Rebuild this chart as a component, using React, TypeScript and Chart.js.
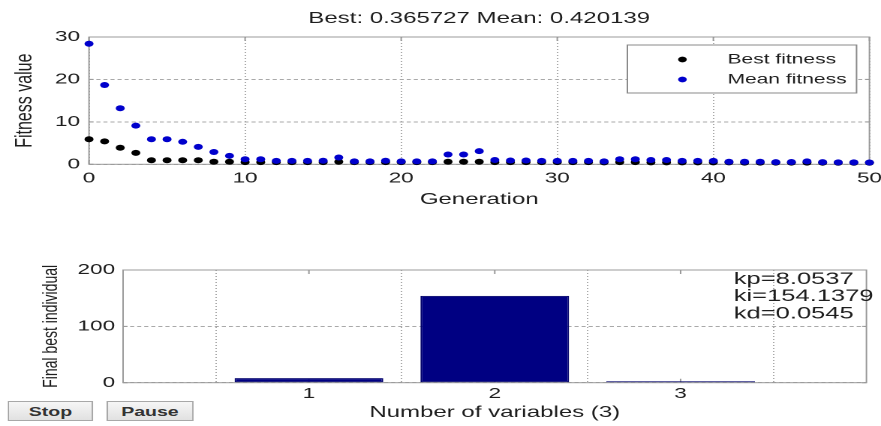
import React, { useEffect, useRef } from "react";
import { Chart, registerables } from "chart.js";

Chart.register(...registerables);

// ---------- data ----------
const bestFinal = 0.365727;
const meanFinal = 0.420139;

const bestFitness = [
  5.9, 5.4, 3.9, 2.7, 0.95, 0.95, 0.95, 0.95, 0.6, 0.6,
  0.5, 0.5, 0.5, 0.5, 0.5, 0.5, 0.6, 0.5, 0.5, 0.5,
  0.5, 0.5, 0.5, 0.6, 0.6, 0.6, 0.5, 0.5, 0.5, 0.5,
  0.5, 0.5, 0.5, 0.45, 0.5, 0.5, 0.45, 0.45, 0.45, 0.45,
  0.45, 0.45, 0.4, 0.4, 0.4, 0.4, 0.4, 0.38, 0.37, 0.37,
  bestFinal,
];

const meanFitness = [
  28.4, 18.7, 13.2, 9.1, 5.9, 5.9, 5.3, 4.1, 2.9, 2.0,
  1.2, 1.2, 0.8, 0.8, 0.8, 0.85, 1.6, 0.7, 0.7, 0.85,
  0.7, 0.7, 0.7, 2.3, 2.3, 3.1, 1.0, 0.9, 0.9, 0.8,
  0.8, 0.8, 0.8, 0.7, 1.2, 1.2, 1.0, 1.0, 0.8, 0.8,
  0.8, 0.6, 0.6, 0.6, 0.5, 0.55, 0.7, 0.5, 0.45, 0.45,
  meanFinal,
];

const genTicks = [0, 10, 20, 30, 40, 50];
const fitTicks = [0, 10, 20, 30];

const paramNames = ["kp", "ki", "kd"];
const varIndex = [1, 2, 3];
const barValues = [8.0537, 154.1379, 0.0545];
const barYTicks = [0, 100, 200];

// ---------- layout (logical, canvas is stretched horizontally) ----------
const LOGICAL_W = 587;
const STRETCH = 881 / LOGICAL_W;
const FONT = '"Liberation Sans", Arial, Helvetica, sans-serif';
const GRID = "#a9a9a9";
const BOX = "#9a9a9a";
const TEXT = "#1e1e1e";

Chart.defaults.font.family = FONT;

const boxPlugin = {
  id: "matBox",
  beforeDatasetsDraw(chart: any) {
    const { ctx, chartArea: a, scales } = chart;
    ctx.save();
    ctx.strokeStyle = BOX;
    ctx.lineWidth = 1;
    const xs = scales.x;
    const ys = scales.y;
    ctx.beginPath();
    xs.ticks.forEach((t: any) => {
      const px = xs.getPixelForValue(t.value);
      ctx.moveTo(px, a.bottom);
      ctx.lineTo(px, a.bottom - 4);
      ctx.moveTo(px, a.top);
      ctx.lineTo(px, a.top + 4);
    });
    ys.ticks.forEach((t: any) => {
      const py = ys.getPixelForValue(t.value);
      ctx.moveTo(a.left, py);
      ctx.lineTo(a.left + 3, py);
      ctx.moveTo(a.right, py);
      ctx.lineTo(a.right - 3, py);
    });
    ctx.stroke();
    ctx.strokeRect(a.left, a.top, a.right - a.left, a.bottom - a.top);
    ctx.restore();
  },
};

const legendBoxPlugin = {
  id: "legendBox",
  afterDatasetsDraw(chart: any, _args: any, opts: any) {
    if (!opts || !opts.show) return;
    const { ctx } = chart;
    ctx.save();
    ctx.fillStyle = "#ffffff";
    ctx.strokeStyle = "#8a8a8a";
    ctx.lineWidth = 1;
    ctx.fillRect(opts.x, opts.y, opts.w, opts.h);
    ctx.strokeRect(opts.x, opts.y, opts.w, opts.h);
    chart.data.datasets.forEach((ds: any, i: number) => {
      const cy = opts.firstRow + i * opts.row;
      ctx.fillStyle = ds.backgroundColor;
      ctx.beginPath();
      ctx.arc(opts.dotX, cy, 2.9, 0, Math.PI * 2);
      ctx.fill();
      ctx.fillStyle = TEXT;
      ctx.font = `14px ${FONT}`;
      ctx.textBaseline = "middle";
      ctx.textAlign = "left";
      ctx.fillText(ds.label, opts.textX, cy);
    });
    ctx.restore();
  },
};

const paramTextPlugin = {
  id: "paramText",
  afterDatasetsDraw(chart: any, _args: any, opts: any) {
    if (!opts || !opts.show) return;
    const { ctx } = chart;
    ctx.save();
    ctx.fillStyle = TEXT;
    ctx.font = `17px ${FONT}`;
    ctx.textBaseline = "middle";
    ctx.textAlign = "left";
    paramNames.forEach((n, i) => {
      ctx.fillText(`${n}=${barValues[i]}`, opts.x, opts.y + i * opts.row);
    });
    ctx.restore();
  },
};

export default function App() {
  const topRef = useRef<HTMLCanvasElement>(null);
  const botRef = useRef<HTMLCanvasElement>(null);

  useEffect(() => {
    const top = new Chart(topRef.current as HTMLCanvasElement, {
      type: "scatter",
      data: {
        datasets: [
          {
            label: "Best fitness",
            data: bestFitness.map((v, i) => ({ x: i, y: v })),
            backgroundColor: "#000000",
            borderColor: "#000000",
            pointRadius: 3,
            pointBorderWidth: 0,
            order: 1,
            clip: false,
          },
          {
            label: "Mean fitness",
            data: meanFitness.map((v, i) => ({ x: i, y: v })),
            backgroundColor: "#0000cc",
            borderColor: "#0000cc",
            pointRadius: 3,
            pointBorderWidth: 0,
            order: 0,
            clip: false,
          },
        ] as any,
      },
      options: {
        animation: false,
        responsive: false,
        devicePixelRatio: 2,
        layout: { padding: { left: 0, right: 7.7, top: 0, bottom: 0 } },
        plugins: {
          legend: { display: false },
          tooltip: { enabled: false },
          title: {
            display: true,
            fullSize: false,
            text: `Best: ${bestFinal} Mean: ${meanFinal}`,
            color: TEXT,
            font: { size: 16, weight: "normal" },
            padding: { top: 8.9, bottom: 8.9 },
          },
          legendBox: {
            show: true,
            x: 418,
            y: 45,
            w: 152.7,
            h: 48,
            firstRow: 59.5,
            row: 20,
            dotX: 454.7,
            textX: 484.7,
          },
        } as any,
        scales: {
          x: {
            type: "linear",
            min: 0,
            max: 50,
            afterBuildTicks: (s: any) => {
              s.ticks = genTicks.map((v) => ({ value: v }));
            },
            afterFit: (s: any) => {
              s.height = 50.7;
              s.paddingLeft = 0;
              s.paddingRight = 0;
            },
            ticks: { color: TEXT, font: { size: 15 }, padding: 5, maxRotation: 0 },
            grid: { color: GRID, drawTicks: false, lineWidth: 1 },
            border: { display: false, dash: [1, 2] },
            title: {
              display: true,
              text: "Generation",
              color: TEXT,
              font: { size: 16 },
              padding: { top: 0, bottom: 6 },
            },
          },
          y: {
            type: "linear",
            min: 0,
            max: 30,
            afterBuildTicks: (s: any) => {
              s.ticks = fitTicks.map((v) => ({ value: v }));
            },
            afterFit: (s: any) => {
              s.width = 59.3;
            },
            ticks: { color: TEXT, font: { size: 15 }, padding: 6 },
            grid: { color: GRID, drawTicks: false, lineWidth: 1 },
            border: { display: false, dash: [2.7, 2] },
            title: {
              display: true,
              text: "Fitness value",
              color: TEXT,
              font: { size: 16 },
              padding: { top: 7.1, bottom: 0 },
            },
          },
        },
      } as any,
      plugins: [boxPlugin, legendBoxPlugin],
    });

    const bot = new Chart(botRef.current as HTMLCanvasElement, {
      type: "bar",
      data: {
        datasets: [
          {
            label: "Final best individual",
            data: varIndex.map((v, i) => ({ x: v, y: barValues[i] })),
            backgroundColor: "#000082",
            borderColor: "#00006a",
            borderWidth: 1,
            barPercentage: 0.8,
            categoryPercentage: 1,
            minBarLength: 1.5,
            borderSkipped: false,
          },
        ] as any,
      },
      options: {
        animation: false,
        responsive: false,
        devicePixelRatio: 2,
        layout: { padding: { left: 0, right: 9.7, top: 30, bottom: 0 } },
        plugins: {
          legend: { display: false },
          tooltip: { enabled: false },
          paramText: { show: true, x: 488.9, y: 39.3, row: 17.2 },
        } as any,
        scales: {
          x: {
            type: "linear",
            min: 0,
            max: 4,
            offset: false,
            afterBuildTicks: (s: any) => {
              s.ticks = varIndex.map((v) => ({ value: v }));
            },
            afterFit: (s: any) => {
              s.height = 43.3;
              s.paddingLeft = 0;
              s.paddingRight = 0;
            },
            ticks: { color: TEXT, font: { size: 15 }, padding: 2, maxRotation: 0 },
            grid: { color: GRID, drawTicks: false, lineWidth: 1 },
            border: { display: false, dash: [1, 2] },
            title: {
              display: true,
              text: "Number of variables (3)",
              color: TEXT,
              font: { size: 16 },
              padding: { top: 0, bottom: 4 },
            },
          },
          y: {
            type: "linear",
            min: 0,
            max: 200,
            afterBuildTicks: (s: any) => {
              s.ticks = barYTicks.map((v) => ({ value: v }));
            },
            afterFit: (s: any) => {
              s.width = 82;
            },
            ticks: { color: TEXT, font: { size: 15 }, padding: 5.3 },
            grid: { color: GRID, drawTicks: false, lineWidth: 1 },
            border: { display: false, dash: [2.7, 2] },
            title: {
              display: true,
              text: "Final best individual",
              color: TEXT,
              font: { size: 14 },
              padding: { top: 25.5, bottom: 0 },
            },
          },
        },
      } as any,
      plugins: [boxPlugin, paramTextPlugin],
    });

    return () => {
      top.destroy();
      bot.destroy();
    };
  }, []);

  const btn: React.CSSProperties = {
    position: "absolute",
    top: 401,
    height: 20,
    boxSizing: "border-box",
    padding: 0,
    margin: 0,
    border: "1px solid #a8a8a8",
    borderRadius: 0,
    background: "linear-gradient(#f6f6f6, #e1e1e1)",
    color: "#333",
    font: `bold 13px ${FONT}`,
  };

  return (
    <div
      style={{
        position: "fixed",
        left: 0,
        top: 0,
        width: 881,
        height: 426,
        overflow: "hidden",
        background: "#ffffff",
      }}
    >
      <div
        style={{
          position: "absolute",
          left: 0,
          top: 0,
          width: LOGICAL_W,
          height: 426,
          transform: `scaleX(${STRETCH})`,
          transformOrigin: "0 0",
        }}
      >
        <canvas
          ref={topRef}
          width={LOGICAL_W}
          height={215}
          style={{ position: "absolute", left: 0, top: 0 }}
        />
        <canvas
          ref={botRef}
          width={LOGICAL_W}
          height={186}
          style={{ position: "absolute", left: 0, top: 240 }}
        />
        <button style={{ ...btn, left: 5.3, width: 56.7 }}>Stop</button>
        <button style={{ ...btn, left: 71.3, width: 57.3 }}>Pause</button>
      </div>
    </div>
  );
}
